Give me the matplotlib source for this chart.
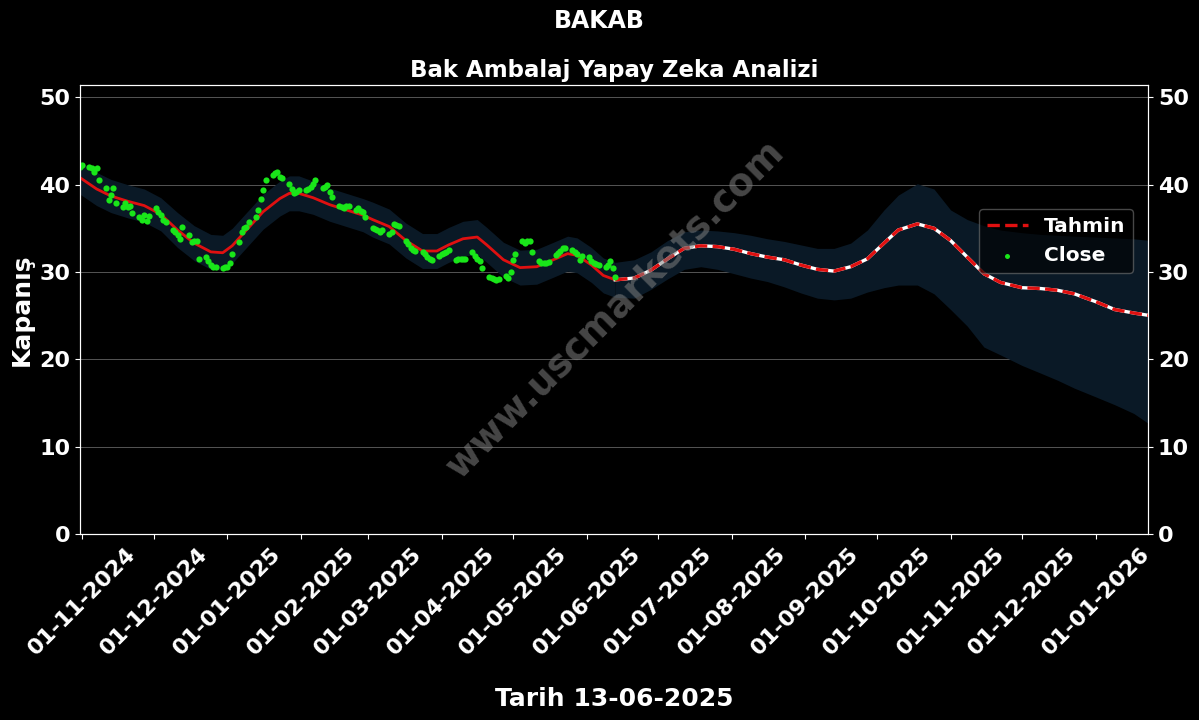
import matplotlib
matplotlib.use("Agg")
import matplotlib.pyplot as plt
import matplotlib.dates as mdates
import pandas as pd
import numpy as np

plt.rcParams['font.family'] = ['DejaVu Sans']
plt.rcParams['font.weight'] = 'bold'

# ---------------- data ----------------
close_start = "2024-10-31"
close_end = "2025-06-13"
close_vals = [
    42.0,
    # Nov 2024
    42.3, 42.0, 41.9, 41.5, 41.9, 40.5, 39.6, 38.2, 38.8, 39.6, 37.9, 37.4, 37.9, 37.4, 37.6,
    36.7, 36.3, 35.9, 36.5, 35.8, 36.4,
    # Dec 2024
    37.3, 36.9, 36.5, 36.0, 35.7, 34.8, 34.6, 34.2, 33.8, 35.2, 34.2, 33.4, 33.5, 33.6, 31.5,
    31.7, 31.2, 30.8, 30.6, 30.6, 30.4, 30.6,
    # Jan 2025
    30.6, 31.0, 32.1, 33.4, 34.6, 35.0, 35.2, 35.7, 36.3, 37.1, 38.4, 39.4, 40.5, 41.1, 41.3,
    41.5, 40.9, 40.8, 40.1, 39.5, 39.0, 39.2, 39.4,
    # Feb 2025
    39.4, 39.5, 39.7, 40.1, 40.5, 39.6, 39.7, 39.9, 39.2, 38.6, 37.6, 37.4, 37.3, 37.5, 37.5,
    37.1, 37.3, 37.0, 36.9, 36.3,
    # Mar 2025
    35.0, 34.9, 34.8, 34.6, 34.8, 34.4, 34.6, 35.5, 35.4, 35.3, 33.6, 33.2, 32.7, 32.5, 32.4,
    32.3, 32.0, 31.7, 31.5, 31.4, 31.8,
    # Apr 2025
    32.1, 32.2, 32.3, 32.5, 31.4, 31.5, 31.5, 31.5, 31.5, 32.3, 31.8, 31.5, 31.3, 30.4, 29.4,
    29.3, 29.2, 29.1, 29.2, 29.5, 29.3, 30.0,
    # May 2025
    31.4, 32.1, 33.6, 33.3, 33.5, 33.6, 32.3, 31.2, 31.0, 31.0, 31.0, 31.1, 31.9, 32.2, 32.4,
    32.7, 32.8, 32.5, 32.3, 32.0, 31.4, 31.8,
    # Jun 2025
    31.7, 31.3, 31.0, 30.9, 30.8, 30.6, 30.8, 31.2, 30.4, 29.4,
]

fit_dates = ["2024-10-31", "2024-11-07", "2024-11-13", "2024-11-20", "2024-11-27", "2024-12-04",
             "2024-12-11", "2024-12-18", "2024-12-25", "2024-12-30", "2025-01-03", "2025-01-09",
             "2025-01-16", "2025-01-23", "2025-01-27", "2025-01-31", "2025-02-06", "2025-02-13",
             "2025-02-20", "2025-02-27", "2025-03-03", "2025-03-10", "2025-03-17", "2025-03-24",
             "2025-03-30", "2025-04-04", "2025-04-10", "2025-04-16", "2025-04-20", "2025-04-27",
             "2025-05-04", "2025-05-11", "2025-05-18", "2025-05-24", "2025-05-28", "2025-06-03",
             "2025-06-08", "2025-06-13"]
fit_vals = [40.8, 39.5, 38.7, 38.1, 37.6, 36.6, 34.8, 33.3, 32.3, 32.2, 33.0, 34.8,
            36.9, 38.4, 39.0, 39.0, 38.5, 37.7, 37.1, 36.5, 36.0, 35.2, 33.6, 32.4,
            32.4, 33.1, 33.8, 34.0, 33.1, 31.4, 30.5, 30.6, 31.4, 32.1, 31.9, 30.8,
            29.6, 29.1]
fit_upper = [42.7, 41.4, 40.6, 40.0, 39.5, 38.5, 36.8, 35.3, 34.3, 34.2, 35.0, 36.8,
             38.9, 40.4, 41.0, 41.0, 40.4, 39.6, 39.0, 38.4, 38.0, 37.2, 35.6, 34.4,
             34.4, 35.1, 35.8, 36.0, 35.1, 33.4, 32.5, 32.6, 33.4, 34.1, 33.9, 32.8,
             31.6, 31.1]
fit_lower = [38.9, 37.6, 36.8, 36.2, 35.7, 34.7, 32.8, 31.3, 30.3, 30.2, 31.0, 32.8,
             34.9, 36.4, 37.0, 37.0, 36.6, 35.8, 35.2, 34.6, 34.0, 33.2, 31.6, 30.4,
             30.4, 31.1, 31.8, 32.0, 31.1, 29.4, 28.5, 28.6, 29.4, 30.1, 29.9, 28.8,
             27.6, 27.1]

fc_dates = ["2025-06-13", "2025-06-21", "2025-06-28", "2025-07-05", "2025-07-12", "2025-07-19",
            "2025-07-26", "2025-08-02", "2025-08-09", "2025-08-16", "2025-08-23", "2025-08-30",
            "2025-09-06", "2025-09-13", "2025-09-20", "2025-09-27", "2025-10-04", "2025-10-10",
            "2025-10-18", "2025-10-25", "2025-11-01", "2025-11-08", "2025-11-15", "2025-11-22",
            "2025-12-01", "2025-12-09", "2025-12-16", "2025-12-23", "2026-01-01", "2026-01-09",
            "2026-01-17", "2026-01-24"]
fc_vals = [29.1, 29.3, 30.2, 31.5, 32.7, 33.0, 32.9, 32.6, 32.1, 31.7, 31.4, 30.8,
           30.3, 30.1, 30.6, 31.5, 33.3, 34.8, 35.5, 35.0, 33.6, 31.7, 29.8, 28.8,
           28.2, 28.1, 27.9, 27.5, 26.6, 25.7, 25.3, 25.0]
fc_upper = [31.1, 31.4, 32.3, 33.6, 34.6, 34.8, 34.7, 34.5, 34.2, 33.8, 33.5, 33.1,
            32.7, 32.7, 33.3, 34.8, 37.1, 38.8, 40.1, 39.5, 37.1, 36.0, 35.3, 34.8,
            34.5, 34.3, 34.2, 34.1, 34.0, 33.9, 33.8, 33.6]
fc_lower = [27.1, 27.0, 28.0, 29.2, 30.3, 30.6, 30.3, 29.8, 29.3, 28.9, 28.3, 27.6,
            27.0, 26.8, 27.0, 27.7, 28.2, 28.5, 28.5, 27.5, 25.7, 23.8, 21.4, 20.5,
            19.3, 18.4, 17.6, 16.7, 15.7, 14.8, 13.8, 12.5]

yticks = [0, 10, 20, 30, 40, 50]
x_start, x_end = "2024-10-31", "2026-01-23"

# ---------------- plot ----------------
close_dates = pd.bdate_range(close_start, close_end)
assert len(close_dates) == len(close_vals), (len(close_dates), len(close_vals))
fd = pd.to_datetime(fit_dates)
cd = pd.to_datetime(fc_dates)

fig = plt.figure(figsize=(11.99, 7.2), dpi=100, facecolor='black')
ax = fig.add_axes([0.0667, 0.2583, 0.8908, 0.6236])
ax.set_facecolor('black')

band_col = '#0a1926'
ax.fill_between(fd, fit_lower, fit_upper, color=band_col, lw=0, zorder=1)
ax.fill_between(cd, fc_lower, fc_upper, color=band_col, lw=0, zorder=1)

ax.plot(fd, fit_vals, color='#e01010', lw=2, zorder=3)
ax.plot(cd, fc_vals, color='white', lw=2.4, zorder=3)
ax.plot(cd, fc_vals, color='#e01010', lw=2.4, ls='--', zorder=4, label='Tahmin')
ax.scatter(close_dates, close_vals, s=20, color='#19e619', zorder=5, label='Close', linewidths=0)

ax.set_xlim(pd.Timestamp(x_start), pd.Timestamp(x_end))
ax.set_ylim(0, 51.4)
ax.set_yticks(yticks)
ax.grid(axis='y', color='#555555', lw=0.7)
ax.set_axisbelow(True)

ax.xaxis.set_major_locator(mdates.MonthLocator())
ax.xaxis.set_major_formatter(mdates.DateFormatter('%d-%m-%Y'))
for lab in ax.get_xticklabels():
    lab.set_rotation(45)
ax.tick_params(colors='white', labelsize=16)
for lab in ax.get_xticklabels() + ax.get_yticklabels():
    lab.set_fontweight('bold')
for s in ax.spines.values():
    s.set_color('white')

ax2 = ax.twinx()
ax2.set_ylim(ax.get_ylim())
ax2.set_yticks(yticks)
ax2.tick_params(colors='white', labelsize=16)
for lab in ax2.get_yticklabels():
    lab.set_fontweight('bold')
for s in ax2.spines.values():
    s.set_color('white')

ax.set_ylabel('Kapanış', color='white', fontsize=18, fontweight='bold')
ax.set_xlabel('Tarih 13-06-2025', color='white', fontsize=18, fontweight='bold', labelpad=20)
ax.set_title('Bak Ambalaj Yapay Zeka Analizi', color='white', fontsize=16.5, fontweight='bold', pad=6)
fig.suptitle('BAKAB', color='white', fontsize=17, fontweight='bold', y=0.988)

leg = ax.legend(loc='center right', bbox_to_anchor=(0.9955, 0.653), fontsize=14.5,
                facecolor='black', edgecolor='#777777', framealpha=0.6, labelcolor='white',
                markerscale=0.8)
for t in leg.get_texts():
    t.set_fontweight('bold')

fig.text(0.513, 0.57, 'www.uscmarkets.com', color='gray', alpha=0.55, fontsize=27,
         fontweight='bold', rotation=45, ha='center', va='center', zorder=10)

fig.savefig('out.png', dpi=100, facecolor='black')
